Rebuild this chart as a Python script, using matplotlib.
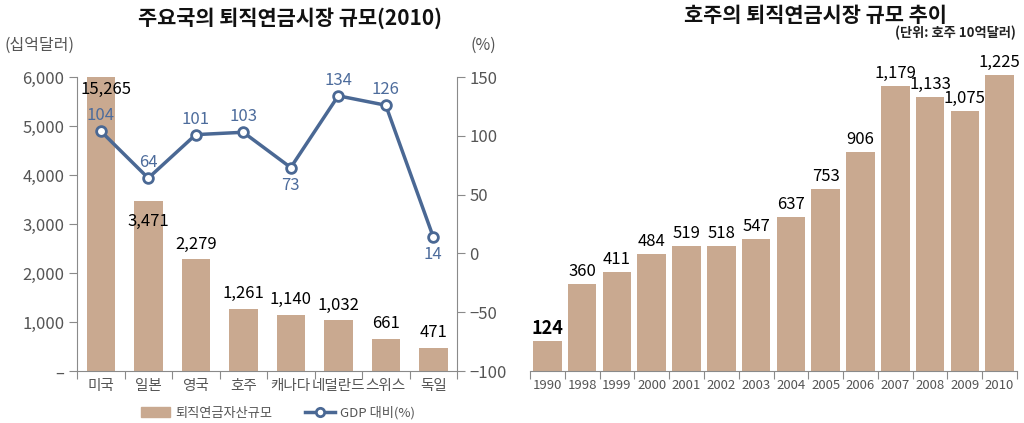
import matplotlib
matplotlib.use('Agg')
import matplotlib.pyplot as plt
import numpy as np
from matplotlib.lines import Line2D
from matplotlib.patches import Patch

plt.rcParams['font.family'] = ['Noto Sans CJK KR', 'DejaVu Sans']

# ---------------- data ----------------
countries = ['미국', '일본', '영국', '호주', '캐나다', '네덜란드', '스위스', '독일']
assets = [15265, 3471, 2279, 1261, 1140, 1032, 661, 471]
gdp_ratio = [104, 64, 101, 103, 73, 134, 126, 14]
left_yticks = [0, 1000, 2000, 3000, 4000, 5000, 6000]
left_yticklabels = ['–', '1,000', '2,000', '3,000', '4,000', '5,000', '6,000']
right_yticks = [-100, -50, 0, 50, 100, 150]
right_yticklabels = ['−100', '−50', '0', '50', '100', '150']

years = ['1990', '1998', '1999', '2000', '2001', '2002', '2003',
         '2004', '2005', '2006', '2007', '2008', '2009', '2010']
aus_assets = [124, 360, 411, 484, 519, 518, 547, 637, 753, 906, 1179, 1133, 1075, 1225]

# ---------------- style ----------------
BAR = '#c9a990'
LINE = '#4a6894'
LBLUE = '#4d6c9c'
GREY = '#555555'
SPINE = '#8a8a8a'

W, H = 1024, 423
fig = plt.figure(figsize=(W / 100, H / 100), dpi=100)

def fr(x0, y_top, x1, y_bot):
    return [x0 / W, 1 - y_bot / H, (x1 - x0) / W, (y_bot - y_top) / H]

# ---------------- left chart ----------------
ax = fig.add_axes(fr(77, 77, 457, 371))
x = np.arange(len(countries))
ymax = 6000
ax.bar(x, [min(v, ymax) for v in assets], width=0.6, color=BAR, zorder=1)
ax.set_xlim(-0.5, len(countries) - 0.5)
ax.set_ylim(0, ymax)
ax.set_yticks(left_yticks)
ax.set_yticklabels(left_yticklabels)
ax.set_xticks(np.arange(len(countries) + 1) - 0.5)
ax.set_xticklabels([])
ax.set_xticks(x, minor=True)
ax.set_xticklabels(countries, minor=True)
ax.tick_params(axis='x', which='major', length=6, color=SPINE, direction='out')
ax.tick_params(axis='x', which='minor', length=0, labelsize=10.5, labelcolor=GREY, pad=6)
ax.tick_params(axis='y', length=6, color=SPINE, labelsize=12, labelcolor=GREY, pad=3)
for s in ['top', 'right']:
    ax.spines[s].set_visible(False)
for s in ['left', 'bottom']:
    ax.spines[s].set_color(SPINE)

bar_off = {0: -9, 1: -15}
for i, v in enumerate(assets):
    yv = min(v, ymax)
    off = bar_off.get(i, 11)
    ax.annotate(f'{v:,}', (i + (0.12 if i == 0 else 0), yv), xytext=(0, off),
                textcoords='offset points', ha='center', va='center',
                fontsize=12, color='black', zorder=5)

ax2 = ax.twinx()
ax2.set_position(fr(77, 77, 457, 371))
ax2.plot(x, gdp_ratio, color=LINE, lw=2.5, marker='o', ms=7,
         mfc='white', mec=LINE, mew=2, zorder=3)
ax2.set_ylim(-100, 150)
ax2.set_yticks(right_yticks)
ax2.set_yticklabels(right_yticklabels)
ax2.tick_params(axis='y', length=6, color=SPINE, labelsize=12, labelcolor=GREY, pad=3)
for s in ['top', 'left', 'bottom']:
    ax2.spines[s].set_visible(False)
ax2.spines['right'].set_color(SPINE)

line_off = {4: -13, 7: -13}
for i, v in enumerate(gdp_ratio):
    off = line_off.get(i, 11)
    ax2.annotate(str(v), (i, v), xytext=(0, off), textcoords='offset points',
                 ha='center', va='center', fontsize=12, color=LBLUE)

fig.text(290 / W, 1 - 18 / H, '주요국의 퇴직연금시장 규모(2010)', ha='center', va='center',
         fontsize=15, fontweight='bold', color='#111111')
fig.text(5 / W, 1 - 45 / H, '(십억달러)', ha='left', va='center', fontsize=11.5, color=GREY)
fig.text(470 / W, 1 - 45 / H, '(%)', ha='left', va='center', fontsize=11.5, color=GREY)

handles = [Patch(color=BAR, label='퇴직연금자산규모'),
           Line2D([0], [0], color=LINE, lw=2.5, marker='o', ms=6, mfc='white',
                  mec=LINE, mew=2, label='GDP 대비(%)')]
fig.legend(handles=handles, loc='center', bbox_to_anchor=(278 / W, 1 - 413 / H),
           ncol=2, frameon=False, fontsize=9.5, labelcolor=GREY,
           handlelength=2.2, handleheight=0.8, columnspacing=2.5, handletextpad=0.4)

# ---------------- right chart ----------------
bx = fig.add_axes(fr(530, 75, 1017, 371))
xr = np.arange(len(years))
bx.bar(xr, aus_assets, width=0.82, color=BAR)
bx.set_xlim(-0.5, len(years) - 0.5)
bx.set_ylim(0, max(aus_assets))
bx.set_yticks([])
bx.set_xticks(np.arange(len(years) + 1) - 0.5)
bx.set_xticklabels([])
bx.set_xticks(xr, minor=True)
bx.set_xticklabels(years, minor=True)
bx.tick_params(axis='x', which='major', length=6, color=SPINE)
bx.tick_params(axis='x', which='minor', length=0, labelsize=9.5, labelcolor=GREY, pad=6)
for s in ['top', 'right', 'left']:
    bx.spines[s].set_visible(False)
bx.spines['bottom'].set_color(SPINE)
for i, v in enumerate(aus_assets):
    bx.annotate(f'{v:,}', (i, v), xytext=(0, 9), textcoords='offset points',
                ha='center', va='center', fontsize=12 if i else 13,
                fontweight='normal' if i else 'bold', color='black', clip_on=False)

fig.text(815 / W, 1 - 15 / H, '호주의 퇴직연금시장 규모 추이', ha='center', va='center',
         fontsize=15, fontweight='bold', color='#111111')
fig.text(1016 / W, 1 - 33 / H, '(단위: 호주 10억달러)', ha='right', va='center',
         fontsize=9.5, fontweight='bold', color='#222222')

fig.savefig('out.png', dpi=100)
